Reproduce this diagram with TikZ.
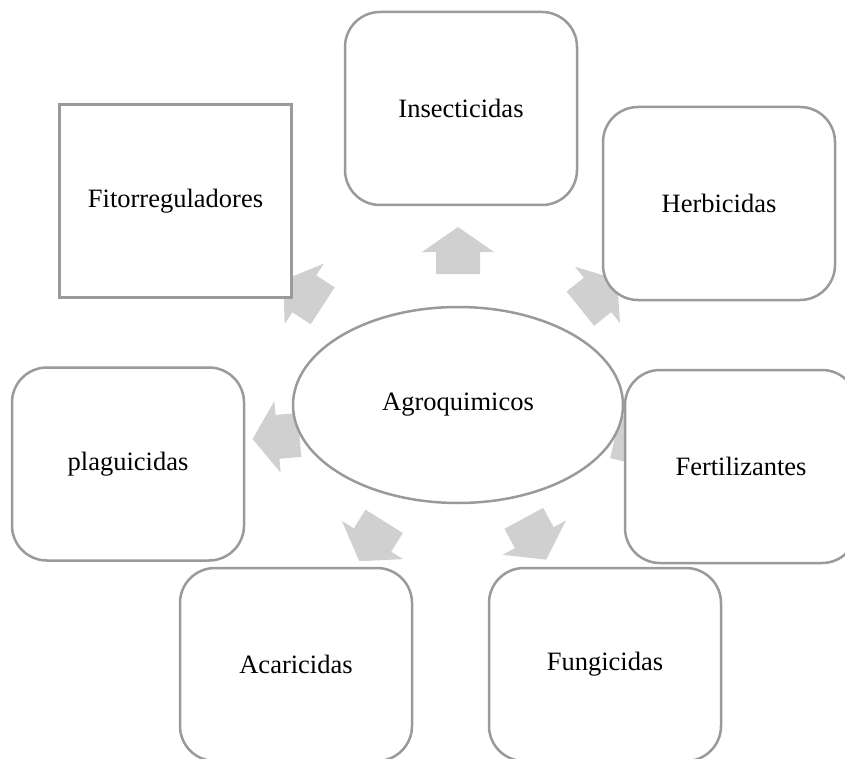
\documentclass[tikz,border=0pt]{standalone}
\usepackage{fontspec}
\setmainfont{Liberation Serif}
\usetikzlibrary{shapes.geometric}
\definecolor{edgegray}{HTML}{9A9A9A}
\definecolor{arrowgray}{HTML}{D0D0D0}
\newcommand\radialarrow[3]{%
  \fill[arrowfill,shift={(#1,#2)},rotate=#3]
    (23.5,0) -- (-1.5,36) -- (-1.5,22) -- (-23.5,22) -- (-23.5,-22)
    -- (-1.5,-22) -- (-1.5,-36) -- cycle;}
\begin{document}
\begin{tikzpicture}[x=1pt,y=-1pt,
  arrowfill/.style={fill=arrowgray},
  catbox/.style={draw=edgegray,line width=2.5pt,fill=white,rounded corners=35pt,
    minimum width=232pt,minimum height=193pt,
    font=\fontsize{26.5}{30}\selectfont},
  sharpbox/.style={catbox,rounded corners=0pt},
  hub/.style={ellipse,draw=edgegray,line width=2.5pt,fill=white,
    minimum width=330pt,minimum height=196pt,inner sep=0pt,
    font=\fontsize{26.5}{30}\selectfont}]
\useasboundingbox (0,0) rectangle (845,759);
\clip (0,0) rectangle (845,759);
% arrows
\radialarrow{458}{250.5}{90}
\radialarrow{598.7}{294}{38.7}
\radialarrow{638}{442}{-12.9}
\radialarrow{535}{539}{-61.6}
\radialarrow{371.7}{541.3}{-122}
\radialarrow{276}{437}{-175}
\radialarrow{303}{293}{147}
% centre
\node[hub] (agro) at (458,405) {Agroquimicos};
% outer shapes
\node[catbox] (ins) at (461,108.5) {Insecticidas};
\node[catbox] (herb) at (719,203.5) {Herbicidas};
\node[sharpbox] (fito) at (175.5,201) {Fitorreguladores};
\node[catbox] (plag) at (128,464) {plaguicidas};
\node[catbox] (fert) at (741,466.5) {Fertilizantes};
\node[catbox] (acar) at (296,664.5) {Acaricidas};
\node[catbox] (fung) at (605,664.5) {Fungicidas};
\end{tikzpicture}
\end{document}
